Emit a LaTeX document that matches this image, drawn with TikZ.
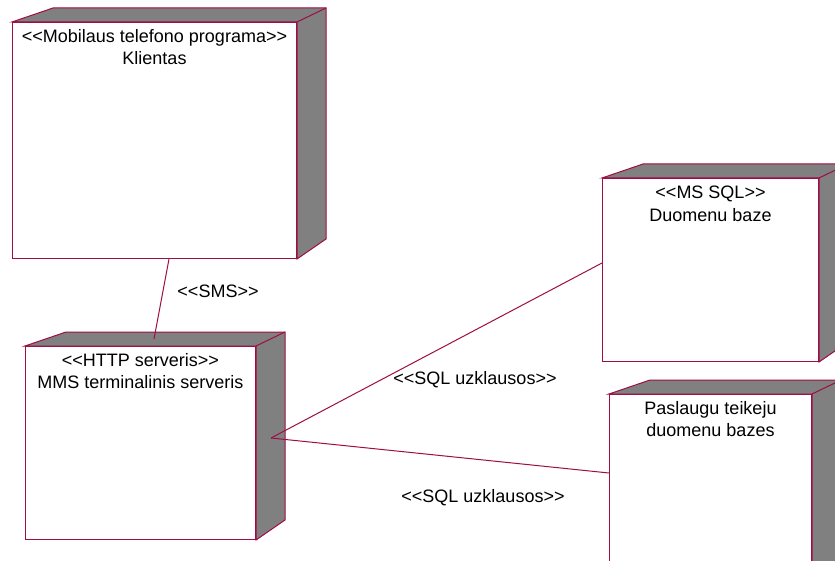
\documentclass[tikz,border=0pt]{standalone}
\usepackage{fontspec}
\setmainfont{Liberation Sans}[Ligatures=TeXOff]
\usetikzlibrary{calc}

\definecolor{edge}{RGB}{158,14,68}
\definecolor{shade}{RGB}{128,128,128}

\tikzset{
  face/.style={draw=edge, line width=1pt, fill=white, inner sep=0pt,
               anchor=north west, rectangle},
  side/.style={draw=edge, fill=shade, line width=1pt, line join=miter},
  caption/.style={font=\fontsize{18}{22.5}\selectfont, align=center,
                  inner sep=0pt, anchor=north, text=black},
  tag/.style={font=\fontsize{18}{22.5}\selectfont, inner sep=0pt,
              anchor=base, text=black},
  link/.style={draw=edge, line width=1pt},
}

% shaded top and right side of a UML deployment node
\newcommand\nodedepth[1]{%
  \path[side] (#1.north west) -- ++(41,14)
    -- ($(#1.north east)+(29,14)$) -- ($(#1.south east)+(29,20)$)
    -- (#1.south east) -- (#1.north east) -- cycle;
  \path[side] (#1.north east) -- ++(29,14);
}

\begin{document}
\begin{tikzpicture}[x=1pt, y=1pt]
  \useasboundingbox (0,0) rectangle (835,-561);
  \clip (0,0) rectangle (835,-561);
  \fill[white] (0,0) rectangle (835,-561);

  % deployment nodes
  \node[face, minimum width=284pt, minimum height=236pt] (cli) at (12,-22) {};
  \nodedepth{cli}
  \node[caption] (clitext) at ($(cli.north)+(0,-7)$)
    {<{}<Mobilaus telefono programa>{}>\\Klientas};

  \node[face, minimum width=230pt, minimum height=193pt] (srv) at (25,-346) {};
  \nodedepth{srv}
  \node[caption] (srvtext) at ($(srv.north)+(0,-7)$)
    {<{}<HTTP serveris>{}>\\MMS terminalinis serveris};

  \node[face, minimum width=216pt, minimum height=183pt] (db) at (602,-178) {};
  \nodedepth{db}
  \node[caption] (dbtext) at ($(db.north)+(0,-8)$)
    {<{}<MS SQL>{}>\\Duomenu baze};

  \node[face, minimum width=202pt, minimum height=200pt] (prov) at (609,-394) {};
  \nodedepth{prov}
  \node[caption] (provtext) at ($(prov.north)+(0,-7)$)
    {Paslaugu teikeju\\duomenu bazes};

  % connection end points
  \coordinate (smsA) at ($(cli.south west)+(157,0)$);
  \coordinate (smsB) at ($(srv.north west)+(129,7)$);
  \coordinate (hub)  at ($(srv.east)+(15,5)$);
  \coordinate (dbIn) at ($(db.north west)+(0,-85)$);
  \coordinate (prIn) at ($(prov.north west)+(0,-79)$);

  % connections
  \draw[link] (smsA) -- (smsB);
  \draw[link] (hub) -- (dbIn);
  \draw[link] (hub) -- (prIn);

  % connection labels
  \node[tag] (smslbl)  at (218,-298) {<{}<SMS>{}>};
  \node[tag] (sqllbl1) at (475,-384) {<{}<SQL uzklausos>{}>};
  \node[tag] (sqllbl2) at (483,-502) {<{}<SQL uzklausos>{}>};
\end{tikzpicture}
\end{document}
